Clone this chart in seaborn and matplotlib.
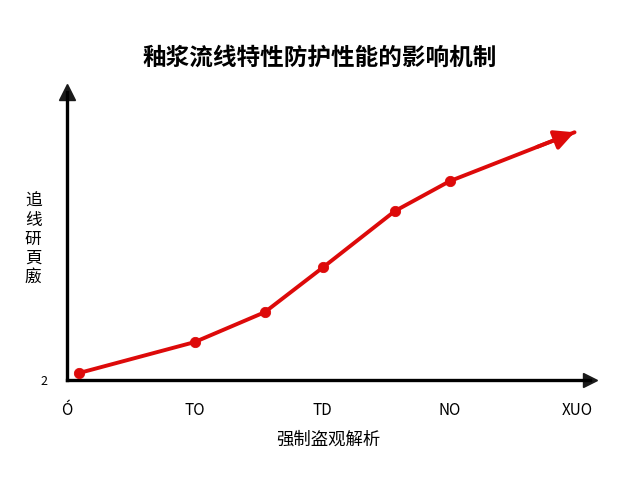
import numpy as np
import pandas as pd
import matplotlib
matplotlib.use("Agg")
import matplotlib.pyplot as plt
import seaborn as sns

# ---- data ----
x_vals = [0.09, 1.0, 1.55, 2.01, 2.57, 3.0, 3.98]
y_vals = [0.24, 1.3, 2.32, 3.86, 5.77, 6.79, 8.46]
marker_n = 6  # last point is only where the arrow head sits

x_ticks = [0, 1, 2, 3, 4]
x_ticklabels = ["Ó", "TO", "TD", "NO", "XUO"]
y_ticks = [0]
y_ticklabels = ["2"]

title = "釉浆流线特性防护性能的影响机制"
xlabel = "强制盗观解析"
ylabel = "追线研頁廒"

sns.set_theme(style="white")
plt.rcParams['font.family'] = ['Noto Sans CJK SC', 'DejaVu Sans']
plt.rcParams['text.color'] = 'black'
plt.rcParams['xtick.color'] = 'black'
plt.rcParams['ytick.color'] = 'black'
plt.rcParams['axes.labelcolor'] = 'black'

df = pd.DataFrame({"x": x_vals, "y": y_vals})
red = "#dd0a0a"

fig = plt.figure(figsize=(6.4, 4.8), dpi=100)
ax = fig.add_axes([0.105, 0.208, 0.817, 0.600])

sns.lineplot(data=df, x="x", y="y", ax=ax, color=red, linewidth=2.8)
sns.scatterplot(data=df.iloc[:marker_n], x="x", y="y", ax=ax, color=red,
                s=55, edgecolor=red, zorder=5)

# arrow head at the end of the curve, following the last segment
x0, y0 = x_vals[-2], y_vals[-2]
x1, y1 = x_vals[-1], y_vals[-1]
ax.annotate("", xy=(x1, y1), xytext=(x0 + 0.7 * (x1 - x0), y0 + 0.7 * (y1 - y0)),
            arrowprops=dict(arrowstyle="-|>,head_length=1.0,head_width=0.5",
                            color=red, lw=2.8, shrinkA=0, shrinkB=0))

ax.set_xlim(0, 523 / 127.5)
ax.set_ylim(0, 288 / 29.3)

for s in ["top", "right"]:
    ax.spines[s].set_visible(False)
for s in ["left", "bottom"]:
    ax.spines[s].set_color("black")
    ax.spines[s].set_linewidth(2.4)

# axis arrows
ax.plot(1, 0, ">k", markersize=10, transform=ax.get_yaxis_transform(), clip_on=False)
ax.plot(0, 1, "^k", markersize=11, transform=ax.get_xaxis_transform(), clip_on=False)

ax.set_xticks(x_ticks)
ax.set_xticklabels(x_ticklabels, fontsize=11)
ax.set_yticks(y_ticks)
ax.set_yticklabels(y_ticklabels, fontsize=9)
ax.tick_params(axis="x", length=0, pad=16)
ax.tick_params(axis="y", length=0, pad=14)

ax.set_xlabel(xlabel, fontsize=12.5, labelpad=8)
ax.set_ylabel("\n".join(ylabel), fontsize=12, rotation=0, labelpad=20,
              linespacing=1.15, va="center")
ax.yaxis.set_label_coords(-0.065, 0.49)

fig.suptitle(title, fontsize=17, fontweight="bold", y=0.905)

fig.savefig("out.png", dpi=100, facecolor="white")
